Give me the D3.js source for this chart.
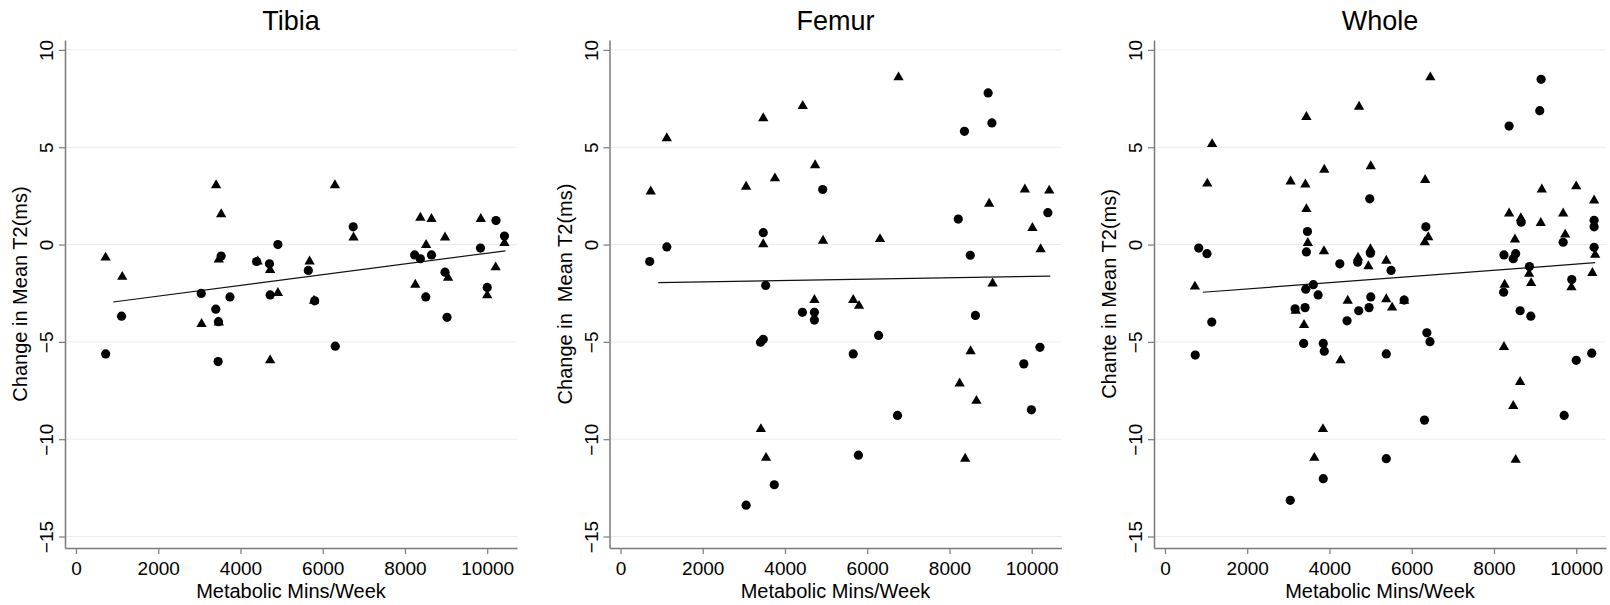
<!DOCTYPE html>
<html>
<head>
<meta charset="utf-8">
<script src="https://cdn.jsdelivr.net/npm/d3@7"></script>
<style>
  body { margin: 0; background: #fff; }
  svg { font-family: "Liberation Sans", Arial, Helvetica, sans-serif; }
</style>
</head>
<body>
<script>
// valores: [Metabolic Mins/Week, cambio en T2 (ms)]
var tibiaTri = [[720,-0.67],[1125,-1.66],[3407,3.05],[3530,1.56],[3473,-0.77],[3054,-4.08],[3473,-4.0],[4417,-0.87],[4721,-1.31],[4910,-2.49],[4721,-5.95],[5681,-0.87],[5788,-2.89],[6297,3.05],[6749,0.36],[8374,1.38],[8645,1.31],[8514,-0.02],[8251,-2.06],[8974,0.36],[9048,-1.70],[9844,1.31],[10205,-1.17],[10000,-2.61],[10419,0.08]];
var tibiaCirc = [[722,-5.62],[1108,-3.68],[3046,-2.51],[3399,-3.32],[3465,-3.96],[3456,-6.01],[3530,-0.59],[3744,-2.69],[4392,-0.87],[4704,-0.99],[4721,-2.59],[4910,0],[5649,-1.33],[5805,-2.89],[6305,-5.22],[6741,0.91],[8235,-0.53],[8374,-0.73],[8506,-2.69],[8645,-0.53],[8974,-1.42],[9023,-3.74],[9836,-0.18],[10213,1.23],[10000,-2.2],[10419,0.44]];
var tibiaFit = [[903,-2.95],[10443,-0.32]];

var femurTri = [[735,2.73],[1127,5.46],[3055,2.97],[3472,6.49],[3472,0.02],[3756,3.40],[4432,7.12],[4733,4.08],[4716,-2.85],[4925,0.20],[3414,-9.48],[3539,-10.96],[5659,-2.85],[5801,-3.15],[6311,0.28],[6761,8.59],[8247,-7.14],[8381,-11.0],[8514,-5.48],[8656,-8.03],[8965,2.10],[9048,-2.0],[9833,2.83],[10017,0.85],[10217,-0.24],[10426,2.77]];
var femurCirc = [[710,-0.87],[1127,-0.12],[3055,-13.39],[3406,-5.02],[3472,-4.87],[3472,0.61],[3531,-2.10],[3740,-12.34],[4424,-3.48],[4716,-3.48],[4716,-3.88],[4917,2.83],[5659,-5.62],[5785,-10.82],[6277,-4.67],[6736,-8.78],[8214,1.31],[8364,5.82],[8506,-0.55],[8631,-3.64],[8940,7.79],[9032,6.25],[9808,-6.13],[9992,-8.49],[10200,-5.28],[10392,1.64]];
var femurFit = [[918,-1.96],[10451,-1.62]];

var wholeTri = [[728,-2.16],[1029,3.13],[1146,5.16],[3054,3.24],[3414,3.09],[3439,1.82],[3473,0.08],[3180,-3.40],[3381,-4.13],[3439,6.55],[3874,3.84],[3866,-0.34],[3632,-10.96],[3841,-9.48],[4268,-5.95],[4444,-2.89],[4720,7.08],[4695,-0.67],[4946,-1.11],[5004,4.02],[4996,-0.24],[5381,-0.83],[5381,-2.81],[5523,-3.24],[5816,-2.89],[6326,3.32],[6318,0.12],[6402,0.38],[6452,8.59],[8243,-5.26],[8259,-2.06],[8368,1.60],[8469,-8.29],[8510,0.26],[8527,-11.06],[8636,-7.06],[8653,1.35],[8854,-1.50],[8904,-1.98],[9163,2.83],[9138,1.11],[9682,1.60],[9732,0.51],[9883,-2.20],[10000,2.99],[10435,2.26],[10393,-1.46],[10460,-0.53]];
var wholeCirc = [[736,-5.68],[820,-0.18],[1021,-0.47],[1138,-3.98],[3046,-13.14],[3163,-3.30],[3406,-3.24],[3372,-5.08],[3423,-2.29],[3439,-0.38],[3464,0.67],[3607,-2.06],[3724,-2.59],[3849,-5.08],[3874,-5.48],[3849,-12.03],[4251,-0.99],[4427,-3.92],[4686,-0.91],[4711,-3.40],[4979,2.35],[5004,-2.69],[4962,-3.24],[4996,-0.44],[5381,-5.62],[5381,-11.0],[5498,-1.33],[5816,-2.85],[6310,-9.02],[6343,0.91],[6368,-4.53],[6444,-4.99],[8243,-0.53],[8234,-2.45],[8368,6.09],[8469,-0.73],[8527,-0.47],[8636,-3.40],[8661,1.15],[8862,-1.13],[8895,-3.68],[9113,6.88],[9146,8.49],[9682,0.12],[9707,-8.78],[9891,-1.80],[10000,-5.95],[10377,-5.58],[10435,1.25],[10435,0.91],[10435,-0.14]];
var wholeFit = [[921,-2.45],[10460,-0.93]];

var titles = ["Tibia", "Femur", "Whole"];
var yTitles = ["Change in Mean T2(ms)", "Change in\u00a0 Mean T2(ms)", "Chante in Mean T2(ms)"];
var xTitle = "Metabolic Mins/Week";
var xTicks = [0, 2000, 4000, 6000, 8000, 10000];
var yTicks = [-15, -10, -5, 0, 5, 10];

var panels = [
  { tri: tibiaTri, circ: tibiaCirc, fit: tibiaFit },
  { tri: femurTri, circ: femurCirc, fit: femurFit },
  { tri: wholeTri, circ: wholeCirc, fit: wholeFit }
];

var W = 1610, H = 605;
var lefts = [65, 609.5, 1154];
var plotW = 452;
var plotTop = 40, plotBottom = 548;

var svg = d3.select("body").append("svg").attr("width", W).attr("height", H);

var triangle = d3.symbol().type(d3.symbolTriangle).size(46);

panels.forEach(function (p, i) {
  var left = lefts[i];
  var x = d3.scaleLinear().domain([-267, 10724]).range([left, left + plotW]);
  var y = d3.scaleLinear().domain([-15.59, 10.51]).range([plotBottom, plotTop]);
  var g = svg.append("g");

  // lineas de grilla
  g.selectAll(".grid").data(yTicks).enter().append("line")
    .attr("x1", left).attr("x2", left + plotW)
    .attr("y1", function (d) { return y(d); }).attr("y2", function (d) { return y(d); })
    .attr("stroke", "#ececec").attr("stroke-width", 1);

  // eje x
  var gx = g.append("g").attr("transform", "translate(0," + plotBottom + ")")
    .call(d3.axisBottom(x).tickValues(xTicks).tickSize(6).tickSizeOuter(0).tickPadding(8).tickFormat(d3.format("d")));
  gx.select(".domain").attr("stroke", "#7a7a7a").attr("stroke-width", 1.5);
  gx.selectAll(".tick line").attr("stroke", "#7a7a7a").attr("stroke-width", 1.2);
  gx.selectAll("text").attr("fill", "#000").style("font-size", "19px").style("font-family", "inherit");

  // eje y
  var gy = g.append("g").attr("transform", "translate(" + left + ",0)")
    .call(d3.axisLeft(y).tickValues(yTicks).tickSize(6).tickSizeOuter(0));
  gy.select(".domain").attr("stroke", "#7a7a7a").attr("stroke-width", 1.5);
  gy.selectAll(".tick line").attr("stroke", "#7a7a7a").attr("stroke-width", 1.2);
  gy.selectAll("text").attr("fill", "#000").style("font-size", "19px").style("font-family", "inherit")
    .attr("x", 0).attr("dy", 0).attr("text-anchor", "middle")
    .attr("transform", "translate(-12,0) rotate(-90)");

  // titulos
  g.append("text").attr("x", left + plotW / 2).attr("y", 30).attr("text-anchor", "middle")
    .style("font-size", "27px").text(titles[i]);
  g.append("text").attr("x", left + plotW / 2).attr("y", 598).attr("text-anchor", "middle")
    .style("font-size", "20px").text(xTitle);
  g.append("text").attr("text-anchor", "middle").style("font-size", "20px")
    .attr("transform", "translate(" + (left - 38) + "," + ((plotTop + plotBottom) / 2) + ") rotate(-90)")
    .text(yTitles[i]);

  // recta ajustada
  g.append("path").datum(p.fit)
    .attr("d", d3.line().x(function (d) { return x(d[0]); }).y(function (d) { return y(d[1]); }))
    .attr("fill", "none").attr("stroke", "#111").attr("stroke-width", 1.2);

  // puntos
  g.selectAll(".circ").data(p.circ).enter().append("circle")
    .attr("cx", function (d) { return x(d[0]); }).attr("cy", function (d) { return y(d[1]); })
    .attr("r", 4.6).attr("fill", "#000");
  g.selectAll(".tri").data(p.tri).enter().append("path")
    .attr("d", triangle)
    .attr("transform", function (d) { return "translate(" + x(d[0]) + "," + y(d[1]) + ")"; })
    .attr("fill", "#000");
});
</script>
</body>
</html>
